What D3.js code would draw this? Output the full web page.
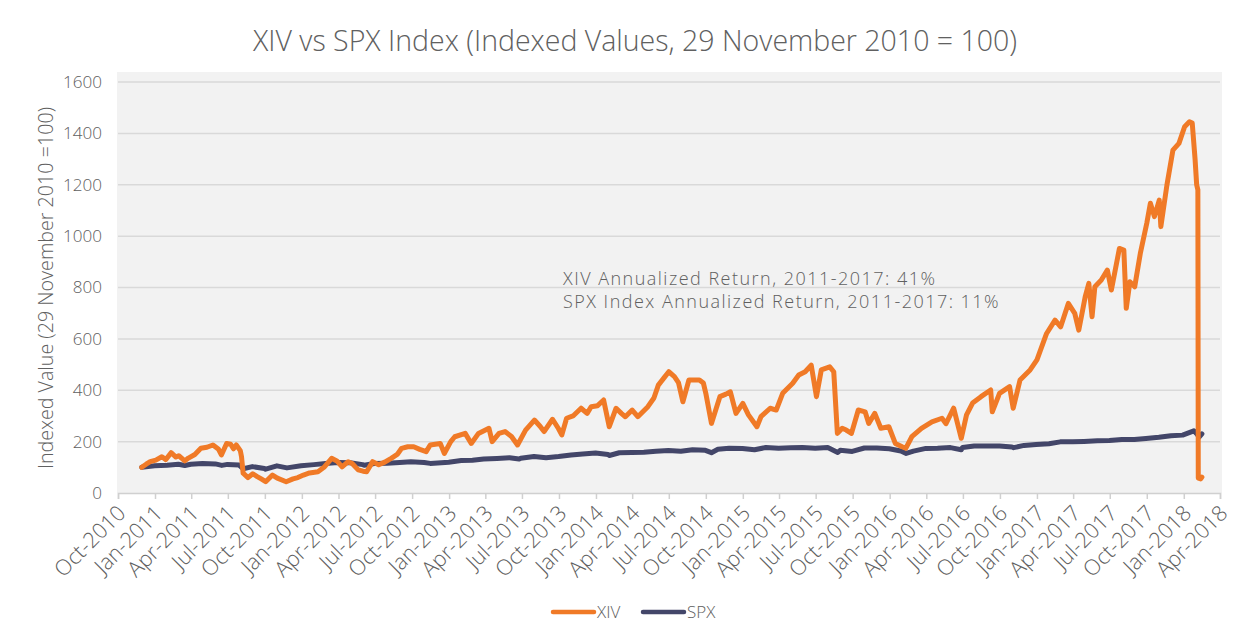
<!DOCTYPE html>
<html>
<head>
<meta charset="utf-8">
<script src="https://cdn.jsdelivr.net/npm/d3@7"></script>
<style>
  html, body { margin: 0; padding: 0; background: #fff; }
  svg { display: block; }
  text { font-family: "Open Sans", Lato, sans-serif; fill: #606060; font-weight: 300; }
</style>
</head>
<body>
<svg id="chart" width="1248" height="634"></svg>
<script>
// ---- data ----
const titleText = "XIV vs SPX Index (Indexed Values, 29 November 2010 = 100)";
const yAxisTitle = "Indexed Value (29 November 2010 =100)";
const annotationLines = [
  "XIV Annualized Return, 2011-2017: 41%",
  "SPX Index Annualized Return, 2011-2017: 11%"
];
const seriesNames = ["XIV", "SPX"];
const yTicks = [0, 200, 400, 600, 800, 1000, 1200, 1400, 1600];

const xivDates = [
  "2010-11-29","2010-12-10","2010-12-20","2011-01-03","2011-01-18","2011-01-28","2011-02-10","2011-02-22",
  "2011-03-01","2011-03-16","2011-03-25","2011-04-10","2011-04-25","2011-05-10","2011-05-25","2011-06-08",
  "2011-06-15","2011-06-28","2011-07-08","2011-07-15","2011-07-22","2011-08-01","2011-08-04","2011-08-08",
  "2011-08-20","2011-09-01","2011-09-12","2011-09-22","2011-10-03","2011-10-20","2011-11-01","2011-11-23",
  "2011-12-10","2011-12-22","2012-01-05","2012-01-20","2012-02-10","2012-02-25","2012-03-15","2012-03-28",
  "2012-04-10","2012-04-25","2012-05-05","2012-05-20","2012-06-01","2012-06-10","2012-06-25","2012-07-10",
  "2012-07-25","2012-08-10","2012-08-25","2012-09-05","2012-09-20","2012-10-05","2012-10-20","2012-11-05",
  "2012-11-15","2012-12-10","2012-12-20","2013-01-05","2013-01-15","2013-02-10","2013-02-25","2013-03-15",
  "2013-04-10","2013-04-18","2013-05-05","2013-05-20","2013-06-05","2013-06-20","2013-07-10","2013-08-01",
  "2013-08-15","2013-08-25","2013-09-15","2013-09-30","2013-10-08","2013-10-20","2013-11-05","2013-11-25",
  "2013-12-10","2013-12-20","2014-01-05","2014-01-20","2014-02-03","2014-02-20","2014-03-05","2014-03-15",
  "2014-04-01","2014-04-15","2014-05-10","2014-05-25","2014-06-05","2014-06-20","2014-07-01","2014-07-15",
  "2014-07-25","2014-08-05","2014-08-20","2014-09-15","2014-09-25","2014-10-01","2014-10-15","2014-11-05",
  "2014-11-20","2014-12-01","2014-12-15","2015-01-01","2015-01-15","2015-02-05","2015-02-15","2015-03-10",
  "2015-03-25","2015-04-10","2015-05-05","2015-05-20","2015-06-05","2015-06-20","2015-07-03","2015-07-15",
  "2015-08-05","2015-08-15","2015-08-24","2015-09-05","2015-09-15","2015-09-28","2015-10-15","2015-11-01",
  "2015-11-10","2015-11-25","2015-12-10","2015-12-30","2016-01-15","2016-02-01","2016-02-10","2016-02-25",
  "2016-03-20","2016-04-15","2016-05-10","2016-05-20","2016-06-08","2016-06-27","2016-07-10","2016-07-25",
  "2016-08-15","2016-09-08","2016-09-12","2016-09-30","2016-10-25","2016-11-03","2016-11-20","2016-12-15",
  "2017-01-01","2017-01-25","2017-02-15","2017-03-01","2017-03-20","2017-04-05","2017-04-15","2017-05-01",
  "2017-05-10","2017-05-18","2017-05-25","2017-06-10","2017-06-25","2017-07-05","2017-07-25","2017-08-05",
  "2017-08-11","2017-08-20","2017-09-01","2017-09-15","2017-10-01","2017-10-10","2017-10-20","2017-11-01",
  "2017-11-05","2017-11-20","2017-12-05","2017-12-20","2018-01-03","2018-01-15","2018-01-22","2018-01-29",
  "2018-02-02","2018-02-05","2018-02-06","2018-02-12","2018-02-15"
];
const xivValues = [
  100,112,122,128,141,130,157,140,
  145,125,136,150,174,178,187,170,
  148,193,190,172,187,165,141,77,
  60,75,64,55,44,70,58,44,
  55,60,70,78,83,100,135,125,
  102,122,115,90,85,83,122,110,
  120,135,150,174,180,180,170,161,
  187,193,154,200,219,232,193,232,
  252,200,232,239,220,187,245,284,
  260,239,287,250,226,291,300,330,
  310,336,340,362,258,330,310,297,
  323,297,336,370,420,450,472,453,
  430,355,440,440,428,388,271,375,
  385,394,310,349,304,258,297,330,
  323,388,427,459,472,498,375,479,
  491,472,232,252,245,232,323,316,
  271,310,252,258,193,180,174,219,
  252,277,291,270,330,213,304,350,
  375,401,316,388,414,330,440,479,
  518,621,673,647,738,699,634,764,
  816,686,803,829,868,790,952,946,
  719,822,803,933,1050,1128,1076,1140,
  1037,1198,1335,1361,1426,1445,1440,1300,
  1200,1180,58,55,62
];

const spxDates = [
  "2010-11-29","2010-12-31","2011-01-31","2011-02-28","2011-03-16","2011-03-31","2011-04-29","2011-05-31",
  "2011-06-16","2011-06-30","2011-07-29","2011-08-08","2011-08-31","2011-09-30","2011-10-03","2011-10-31",
  "2011-11-25","2011-12-30","2012-01-31","2012-02-29","2012-03-30","2012-04-30","2012-05-31","2012-06-04",
  "2012-06-29","2012-07-31","2012-08-31","2012-09-28","2012-10-31","2012-11-15","2012-12-31","2013-01-31",
  "2013-02-28","2013-03-28","2013-04-30","2013-05-31","2013-06-24","2013-06-28","2013-07-31","2013-08-30",
  "2013-09-30","2013-10-31","2013-11-29","2013-12-31","2014-01-31","2014-02-03","2014-02-28","2014-03-31",
  "2014-04-30","2014-05-30","2014-06-30","2014-07-31","2014-08-29","2014-09-30","2014-10-15","2014-10-31",
  "2014-11-28","2014-12-31","2015-01-30","2015-02-27","2015-03-31","2015-04-30","2015-05-29","2015-06-30",
  "2015-07-31","2015-08-25","2015-08-31","2015-09-30","2015-10-30","2015-11-30","2015-12-31","2016-01-29",
  "2016-02-11","2016-02-29","2016-03-31","2016-04-29","2016-05-31","2016-06-27","2016-06-30","2016-07-29",
  "2016-08-31","2016-09-30","2016-10-31","2016-11-04","2016-11-30","2016-12-30","2017-01-31","2017-02-28",
  "2017-03-31","2017-04-28","2017-05-31","2017-06-30","2017-07-31","2017-08-31","2017-09-29","2017-10-31",
  "2017-11-30","2017-12-29","2018-01-26","2018-02-02","2018-02-08","2018-02-15"
];
const spxValues = [
  100,106,108.3,111.8,107,111.7,114.9,113.3,
  107.5,111.3,108.8,94.5,102.7,95.3,92.6,105.6,
  97.8,106,110.5,115,118.6,117.8,110.4,108,
  114.7,116.2,118.5,121.4,119,115.3,120.1,126.2,
  127.6,132.2,134.6,137.4,132,135.3,142,137.6,
  141.7,148,152.1,155.7,150.2,146,156.6,157.7,
  158.7,162.1,165.1,162.7,168.7,166.1,157,170,
  174.2,173.5,168.1,177.3,174.2,175.7,177.5,173.8,
  177.2,157.6,166.1,161.7,175.2,175.2,172.2,163.4,
  154,162.8,173.5,174,176.7,168.6,176.8,183.1,
  182.9,182.7,179.1,176.5,185.2,188.6,192,199.1,
  199.1,200.8,203.2,204.1,208.1,208.2,212.2,216.9,
  223.1,225.3,242,231,217.4,230
];

// ---- helpers ----
// scale a text element's font size so that its rendered width matches a target width
function fitWidth(sel, target) {
  const w = sel.node().getComputedTextLength();
  const fs = parseFloat(sel.attr("font-size"));
  if (w > 0) sel.attr("font-size", (fs * target / w).toFixed(2));
}
// widen a text by letter-spacing so that it reaches a target width
function spaceToWidth(sel, target) {
  const n = sel.node();
  const w = n.getComputedTextLength();
  const chars = n.textContent.length;
  const ls = Math.max(0, (target - w) / chars);
  sel.attr("letter-spacing", ls.toFixed(2));
  return ls;
}

// ---- chart ----
const svg = d3.select("#chart");
const parse = d3.timeParse("%Y-%m-%d");
const xiv = xivDates.map((d, i) => ({ date: parse(d), value: xivValues[i] }));
const spx = spxDates.map((d, i) => ({ date: parse(d), value: spxValues[i] }));

const mLeft = 118, mRight = 1220, mTop = 82, mBottom = 493;
const x = d3.scaleTime()
  .domain([new Date(2010, 9, 1), new Date(2018, 3, 1)])
  .range([mLeft, mRight]);
const y = d3.scaleLinear().domain([0, 1600]).range([mBottom, mTop]);

// plot background
svg.append("rect")
  .attr("x", mLeft - 1).attr("y", 72)
  .attr("width", mRight - mLeft + 3).attr("height", mBottom - 72)
  .attr("fill", "#f2f2f2");

// gridlines
svg.append("g")
  .selectAll("line")
  .data(yTicks.filter(d => d > 0))
  .join("line")
  .attr("x1", mLeft).attr("x2", mRight)
  .attr("y1", d => y(d)).attr("y2", d => y(d))
  .attr("stroke", "#d9d9d9").attr("stroke-width", 1.5);

// y axis labels
const yAxis = d3.axisLeft(y).tickValues(yTicks).tickSize(0).tickPadding(16).tickFormat(d3.format("d"));
const gy = svg.append("g").attr("transform", `translate(${mLeft},0)`).call(yAxis);
gy.select(".domain").remove();
const yLabels = gy.selectAll("text").attr("font-size", 17).attr("font-family", null).attr("fill", "#606060");
{
  const topLabel = yLabels.filter(d => d === 1600);
  fitWidth(topLabel, 39);
  yLabels.attr("font-size", topLabel.attr("font-size"));
}

// x axis
const quarterTicks = d3.timeMonth.every(3).range(new Date(2010, 9, 1), new Date(2018, 3, 2));
const xAxis = d3.axisBottom(x).tickValues(quarterTicks).tickSize(6).tickFormat(d3.timeFormat("%b-%Y"));
const gx = svg.append("g").attr("transform", `translate(0,${mBottom})`).call(xAxis);
gx.select(".domain").attr("stroke", "#d0d0d0").attr("stroke-width", 1.5);
gx.selectAll(".tick line").attr("stroke", "#d0d0d0").attr("stroke-width", 1.5);
const xLabels = gx.selectAll("text")
  .attr("font-size", 16).attr("font-family", null).attr("fill", "#606060")
  .attr("text-anchor", "end")
  .attr("dy", 0).attr("y", 0).attr("x", 0);
{
  const first = d3.select(xLabels.nodes()[0]);
  fitWidth(first, 90);
  xLabels.attr("font-size", first.attr("font-size"));
  const fs = parseFloat(first.attr("font-size"));
  xLabels.attr("transform", `translate(${3 + fs * 0.25},${14 + fs * 0.35}) rotate(-45)`);
}

// lines
const line = d3.line().x(d => x(d.date)).y(d => y(d.value));
svg.append("path").datum(spx)
  .attr("d", line).attr("fill", "none")
  .attr("stroke", "#434669").attr("stroke-width", 5)
  .attr("stroke-linejoin", "round").attr("stroke-linecap", "round");
svg.append("path").datum(xiv)
  .attr("d", line).attr("fill", "none")
  .attr("stroke", "#f07a27").attr("stroke-width", 5)
  .attr("stroke-linejoin", "round").attr("stroke-linecap", "round");

// title
const title = svg.append("text")
  .attr("x", 635).attr("y", 51)
  .attr("text-anchor", "middle")
  .attr("font-size", 24)
  .text(titleText);
fitWidth(title, 764);

// y axis title
const yTitle = svg.append("text")
  .attr("transform", "translate(53,288) rotate(-90)")
  .attr("text-anchor", "middle")
  .attr("font-size", 17)
  .text(yAxisTitle);
fitWidth(yTitle, 362);

// annotation
const ann = svg.append("g").selectAll("text")
  .data(annotationLines)
  .join("text")
  .attr("x", 563).attr("y", (d, i) => 285 + i * 23)
  .attr("font-size", 18)
  .text(d => d);
{
  const second = d3.select(ann.nodes()[1]);
  const ls = spaceToWidth(second, 437);
  ann.attr("letter-spacing", ls.toFixed(2));
}

// legend
const legend = svg.append("g");
const legendItems = [
  { name: seriesNames[0], color: "#f07a27", x0: 553 },
  { name: seriesNames[1], color: "#434669", x0: 643 }
];
legendItems.forEach(it => {
  legend.append("line")
    .attr("x1", it.x0).attr("x2", it.x0 + 41)
    .attr("y1", 612).attr("y2", 612)
    .attr("stroke", it.color).attr("stroke-width", 4.5)
    .attr("stroke-linecap", "round");
  legend.append("text")
    .attr("x", it.x0 + 44).attr("y", 618)
    .attr("font-size", 17)
    .text(it.name);
});
</script>
</body>
</html>
